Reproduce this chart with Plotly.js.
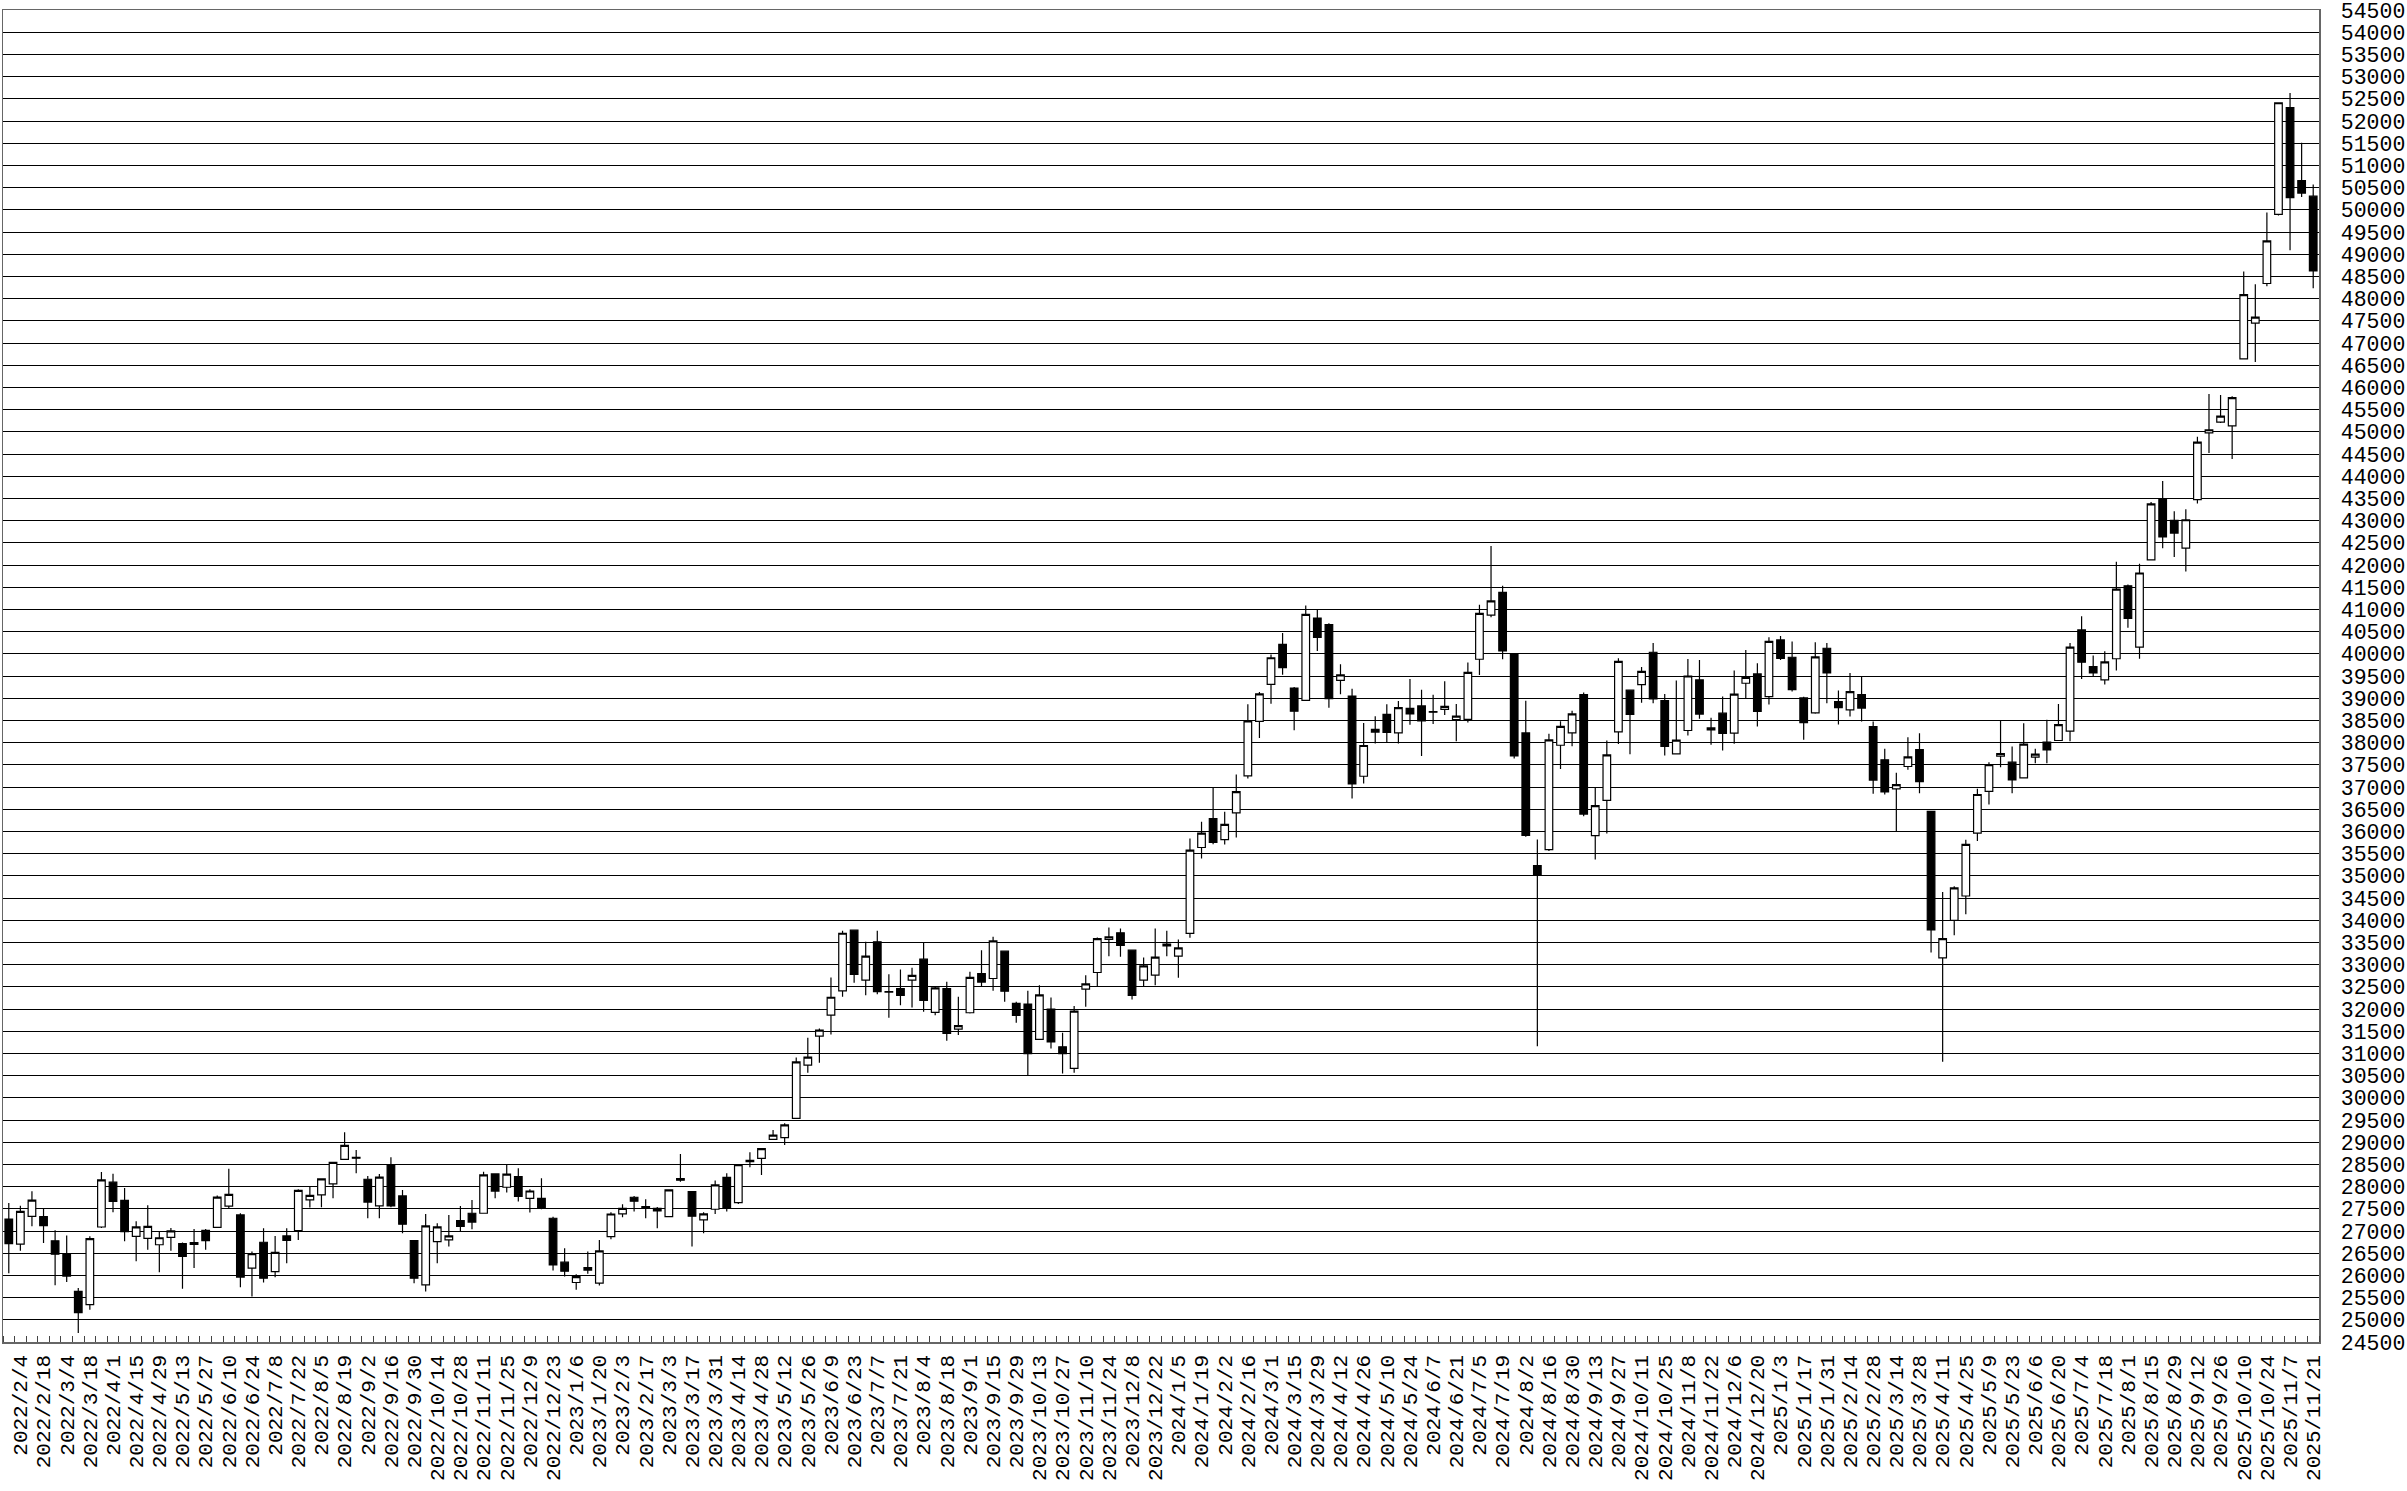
<!DOCTYPE html>
<html><head><meta charset="utf-8">
<script src="https://cdn.plot.ly/plotly-3.0.1.min.js"></script>
<style>html,body{margin:0;padding:0;background:#fff;}#chart{width:2407px;height:1491px;}</style>
</head><body><div id="chart"></div>
<script>
const dates = [
'2022/1/28','2022/2/4','2022/2/11','2022/2/18','2022/2/25','2022/3/4','2022/3/11','2022/3/18','2022/3/25','2022/4/1',
'2022/4/8','2022/4/15','2022/4/22','2022/4/29','2022/5/6','2022/5/13','2022/5/20','2022/5/27','2022/6/3','2022/6/10',
'2022/6/17','2022/6/24','2022/7/1','2022/7/8','2022/7/15','2022/7/22','2022/7/29','2022/8/5','2022/8/12','2022/8/19',
'2022/8/26','2022/9/2','2022/9/9','2022/9/16','2022/9/23','2022/9/30','2022/10/7','2022/10/14','2022/10/21','2022/10/28',
'2022/11/4','2022/11/11','2022/11/18','2022/11/25','2022/12/2','2022/12/9','2022/12/16','2022/12/23','2022/12/30','2023/1/6',
'2023/1/13','2023/1/20','2023/1/27','2023/2/3','2023/2/10','2023/2/17','2023/2/24','2023/3/3','2023/3/10','2023/3/17',
'2023/3/24','2023/3/31','2023/4/7','2023/4/14','2023/4/21','2023/4/28','2023/5/5','2023/5/12','2023/5/19','2023/5/26',
'2023/6/2','2023/6/9','2023/6/16','2023/6/23','2023/6/30','2023/7/7','2023/7/14','2023/7/21','2023/7/28','2023/8/4',
'2023/8/11','2023/8/18','2023/8/25','2023/9/1','2023/9/8','2023/9/15','2023/9/22','2023/9/29','2023/10/6','2023/10/13',
'2023/10/20','2023/10/27','2023/11/3','2023/11/10','2023/11/17','2023/11/24','2023/12/1','2023/12/8','2023/12/15','2023/12/22',
'2023/12/29','2024/1/5','2024/1/12','2024/1/19','2024/1/26','2024/2/2','2024/2/9','2024/2/16','2024/2/23','2024/3/1',
'2024/3/8','2024/3/15','2024/3/22','2024/3/29','2024/4/5','2024/4/12','2024/4/19','2024/4/26','2024/5/3','2024/5/10',
'2024/5/17','2024/5/24','2024/5/31','2024/6/7','2024/6/14','2024/6/21','2024/6/28','2024/7/5','2024/7/12','2024/7/19',
'2024/7/26','2024/8/2','2024/8/9','2024/8/16','2024/8/23','2024/8/30','2024/9/6','2024/9/13','2024/9/20','2024/9/27',
'2024/10/4','2024/10/11','2024/10/18','2024/10/25','2024/11/1','2024/11/8','2024/11/15','2024/11/22','2024/11/29','2024/12/6',
'2024/12/13','2024/12/20','2024/12/27','2025/1/3','2025/1/10','2025/1/17','2025/1/24','2025/1/31','2025/2/7','2025/2/14',
'2025/2/21','2025/2/28','2025/3/7','2025/3/14','2025/3/21','2025/3/28','2025/4/4','2025/4/11','2025/4/18','2025/4/25',
'2025/5/2','2025/5/9','2025/5/16','2025/5/23','2025/5/30','2025/6/6','2025/6/13','2025/6/20','2025/6/27','2025/7/4',
'2025/7/11','2025/7/18','2025/7/25','2025/8/1','2025/8/8','2025/8/15','2025/8/22','2025/8/29','2025/9/5','2025/9/12',
'2025/9/19','2025/9/26','2025/10/3','2025/10/10','2025/10/17','2025/10/24','2025/10/31','2025/11/7','2025/11/14','2025/11/21'
];
const openV = [
27270,26706,27330,27323,26780,26466,25640,25340,27090,28100,
27690,26880,26835,26690,26857,26714,26700,27015,27083,27560,
27362,26163,26747,26087,26890,27010,27700,27812,28060,28615,
28660,28165,27565,28487,27790,26785,25787,26762,26800,27235,
27400,27400,28285,27985,28225,27737,27737,27287,26297,25840,
26177,25825,26875,27385,27760,27550,27512,27325,28180,27887,
27250,27490,28210,27640,28590,28637,29065,29102,29537,30737,
31390,31862,32410,33775,32650,33512,32380,32462,32650,33122,
31922,32462,31547,31915,32800,32687,33302,32125,32110,31315,
32000,31150,30662,32447,32822,33565,33715,33325,32650,32762,
33422,33192,33702,35637,36290,35817,36417,37250,38480,39312,
40212,39230,38952,40805,40655,39400,39050,37242,38300,38637,
38217,38770,38825,38700,38750,38520,38525,39877,40870,41385,
40000,38217,35230,35590,37940,38217,39080,35905,36700,38240,
39180,39307,40035,38947,37747,38272,39412,38330,38662,38212,
39337,39547,39037,40312,39922,39007,38670,40125,38925,38737,
39082,38362,37612,36960,37462,37845,36450,33150,33997,34545,
35962,36900,37695,37560,37207,37672,38010,38047,38257,40537,
39712,39412,39888,41531,40150,42117,43472,43008,42379,43472,
44975,45220,45133,46644,47448,48340,49895,52299,50656,50306
];
const highV = [
27630,27570,27895,27500,27015,26900,25714,26880,28330,28290,
27970,27220,27580,26990,27067,26740,27045,27045,27797,28400,
27400,26537,27062,26890,27062,27940,28015,28190,28562,29222,
28825,28240,28285,28660,27925,26800,27385,27175,27362,27565,
27700,28337,28300,28487,28412,27940,28187,27320,26612,26027,
26537,26800,27420,27602,27790,27715,27540,27940,28735,27900,
27420,28135,28300,28500,28772,28870,29275,29425,30910,31352,
31560,32710,33760,33780,33512,33760,32785,32890,32927,33490,
32510,32612,32275,32837,33325,33625,33320,32162,32410,32537,
32260,31465,32065,32762,33610,33835,33812,33340,33160,33812,
33760,33567,35840,36215,36980,36440,37280,38862,39140,39987,
40467,39250,41090,40992,40690,39762,39215,38442,38592,38862,
38937,39430,39190,39075,39382,38870,39802,41102,42430,41535,
40020,38945,35815,38202,38480,38720,39127,37000,38045,39900,
39190,39705,40245,39097,39397,39885,39862,38557,39037,39622,
40087,39787,40372,40400,40275,39030,40260,40245,39172,39570,
39495,38475,37860,37320,38122,38212,36460,34635,34762,35812,
36960,37560,38497,37912,38437,37860,38512,38872,40245,40845,
39960,40057,42073,41560,42029,43420,43891,43209,43253,44887,
45849,45831,45800,48611,48322,49939,52411,52631,51512,50569
];
const lowV = [
26050,26556,27105,26730,25780,25850,24700,25225,27070,27420,
26770,26320,26580,26070,26556,25700,26165,26578,27067,27520,
25735,25525,25840,25960,26275,26800,27527,27535,27737,28600,
28300,27287,27287,27535,26950,25825,25637,26275,26650,26987,
27040,27390,27737,27865,27662,27415,27490,26110,25975,25675,
26035,25772,26815,27310,27437,27287,27062,27310,28110,26650,
26950,27385,27437,27610,28435,28262,29050,28937,29520,30565,
30790,31427,32275,32590,32312,32335,31802,32087,32035,31937,
31862,31285,31412,31900,32515,32410,32162,31690,30512,31300,
31112,30550,30565,32050,32500,33190,33175,32215,32515,32537,
33190,32705,33605,35390,35712,35705,35862,37190,38105,38877,
39530,38277,38940,40062,38787,39087,36740,37077,37977,38015,
37977,38400,37700,38420,38622,38030,38450,39525,40822,39875,
37640,35880,31160,35560,37407,37915,36340,35365,35950,37970,
37735,38895,38887,37710,37740,38160,38535,37950,37822,37972,
38985,38362,38857,39860,39150,38062,38650,38887,38407,38587,
38475,36847,36832,36000,37387,36862,33270,30810,33660,34132,
35782,36607,37447,36862,37200,37537,37537,38040,38032,39435,
39487,39307,39626,40587,39888,42100,42379,42178,41855,43384,
44520,45200,44389,46630,46574,48279,49869,49091,50289,48235
];
const closeV = [
26717,27440,27696,27122,26476,25985,25163,26827,28150,27666,
26986,27093,27105,26848,27004,26428,26739,26781,27762,27824,
25963,26492,25936,26517,26788,27915,27802,28176,28547,28930,
28641,27651,28215,27568,27154,25937,27116,27091,26891,27105,
27200,28264,27900,28283,27778,27901,27527,26235,26095,25974,
26120,26554,27383,27509,27671,27513,27453,27927,28144,27334,
27385,28041,27518,28493,28564,28856,29158,29388,30808,30916,
31524,32265,33706,32782,33189,32388,32391,32304,32759,32193,
32474,31451,31624,32711,32607,33533,32402,31858,30995,32316,
31259,30992,31950,32568,33585,33626,33432,32308,32971,33169,
33464,33377,35577,35963,35751,36158,36897,38487,39099,39911,
39689,38708,40888,40369,38992,39524,37068,37935,38236,38229,
38787,38646,38488,38684,38815,38596,39583,40912,41191,40064,
37700,35910,35025,38063,38364,38648,36391,36582,37724,39830,
38636,39606,38982,37914,38054,39500,38643,38284,38208,39091,
39470,38702,40281,39895,39190,38451,39932,39572,38787,39149,
38777,37155,36887,37053,37677,37120,33781,33586,34730,35706,
36831,37503,37754,37160,37965,37742,37834,38403,40151,39811,
39570,39819,41456,40800,41820,43378,42633,42718,43019,44768,
45046,45355,45770,48089,47582,49300,52411,50276,50377,48626
];

const xDates = dates.map(d => d.replace(/\//g, '-'));
const tickVals = xDates.filter((d, i) => i % 2 === 1);
const tickText = dates.filter((d, i) => i % 2 === 1);

const FONT = 'Liberation Mono, DejaVu Sans Mono, monospace';

const trace = {
  type: 'candlestick',
  x: xDates,
  open: openV, high: highV, low: lowV, close: closeV,
  increasing: {line: {color: '#000', width: 1.2}, fillcolor: '#ffffff'},
  decreasing: {line: {color: '#000', width: 1.2}, fillcolor: '#000000'},
  whiskerwidth: 0,
  hoverinfo: 'skip',
  showlegend: false
};

const layout = {
  width: 2407, height: 1491,
  margin: {l: 3, r: 88, t: 10, b: 149, pad: 0},
  paper_bgcolor: '#ffffff', plot_bgcolor: '#ffffff',
  showlegend: false,
  boxgap: 0.06,
  font: {family: FONT, size: 21, color: '#000'},
  xaxis: {
    type: 'date',
    range: ['2022-01-24 12:00', '2025-11-24 12:00'],
    rangeslider: {visible: false},
    tickmode: 'array', tickvals: tickVals, ticktext: tickText,
    tickangle: -90,
    ticks: '',
    ticklabelstandoff: 3,
    ticklabeloverflow: 'allow',
    tickfont: {family: FONT, size: 21, color: '#000'},
    showgrid: false, zeroline: false,
    showline: true, linecolor: '#666', linewidth: 1.5, mirror: true,
    minor: {tickmode: 'linear', tick0: '2022-01-24 12:00', dtick: 604800000,
            ticks: 'inside', ticklen: 6, tickwidth: 1, tickcolor: '#444', showgrid: false}
  },
  yaxis: {
    side: 'right',
    range: [24500, 54500],
    tickmode: 'linear', tick0: 24500, dtick: 500,
    ticks: '',
    ticklabelstandoff: 16,
    ticklabeloverflow: 'allow',
    tickfont: {family: FONT, size: 21.5, color: '#000'},
    showgrid: true, gridcolor: '#000', gridwidth: 1,
    zeroline: false,
    showline: true, linecolor: '#666', linewidth: 1.5, mirror: true,
    tickformat: 'd'
  }
};

Plotly.newPlot('chart', [trace], layout, {staticPlot: true, displayModeBar: false});
</script>
</body></html>
